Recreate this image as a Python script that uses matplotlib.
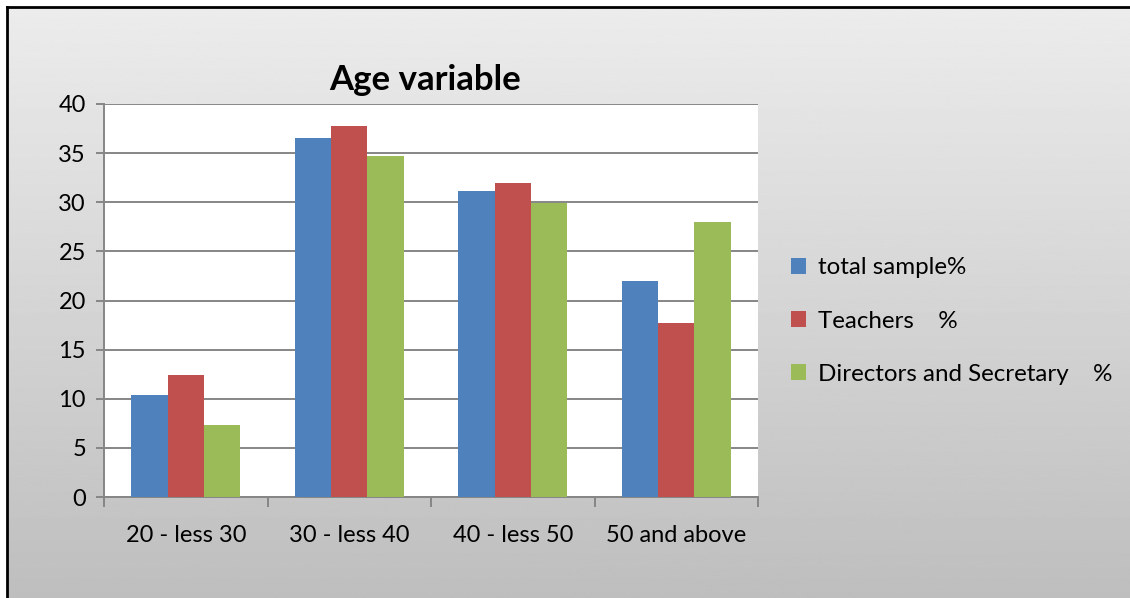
import numpy as np
import matplotlib
matplotlib.use("Agg")
import matplotlib.pyplot as plt
from matplotlib.lines import Line2D
from matplotlib.patches import Patch

plt.rcParams["font.family"] = ["Lato", "DejaVu Sans"]

categories = ["20 - less 30", "30 - less 40", "40 - less 50", "50 and above"]
total_sample = [10.4, 36.5, 31.1, 22.0]
teachers = [12.4, 37.8, 32.0, 17.7]
directors = [7.3, 34.7, 29.9, 28.0]
series_labels = ["total sample%", "Teachers    %", "Directors and Secretary    %"]
colors = ["#4F81BD", "#C0504D", "#9BBB59"]

W, H = 1130, 598
fig = plt.figure(figsize=(W / 100, H / 100), dpi=100)
fig.patch.set_facecolor("white")

# grey gradient panel behind the chart, framed on top/left
bg = fig.add_axes([7 / W, 0, 1 - 7 / W, 1 - 7 / H], zorder=0)
grad = np.linspace(0.925, 0.745, 256).reshape(-1, 1)
bg.imshow(grad, cmap="gray", vmin=0, vmax=1, aspect="auto", extent=[0, 1, 0, 1])
bg.set_xlim(0, 1)
bg.set_ylim(0, 1)
bg.axis("off")
fig.add_artist(Line2D([7 / W, 7 / W], [0, 1 - 7 / H], color="black", lw=2))
fig.add_artist(Line2D([7 / W, 1], [1 - 7 / H, 1 - 7 / H], color="black", lw=2))

ax = fig.add_axes([104 / W, 1 - 497 / H, 654 / W, 393 / H], zorder=1)
ax.set_facecolor("white")

x = np.arange(len(categories))
bw = 1 / 4.5
for i, (vals, c) in enumerate(zip([total_sample, teachers, directors], colors)):
    ax.bar(x + (i - 1) * bw, vals, width=bw, color=c, zorder=3)

ax.set_xlim(-0.5, len(categories) - 0.5)
ax.set_ylim(0, 40)
ax.set_yticks(range(0, 41, 5))
ax.yaxis.grid(True, color="#868686", lw=1.4, zorder=0)
ax.set_xticks(x)
ax.set_xticklabels(categories)
ax.set_xticks(np.arange(-0.5, len(categories)), minor=True)
ax.tick_params(axis="x", which="major", length=0, pad=20, labelsize=17)
ax.tick_params(axis="x", which="minor", length=7, width=1.4, color="#868686")
ax.tick_params(axis="y", length=6, width=1.4, color="#868686", labelsize=17, pad=7)
for s in ["top", "right"]:
    ax.spines[s].set_visible(False)
for s in ["left", "bottom"]:
    ax.spines[s].set_color("#868686")
    ax.spines[s].set_linewidth(1.4)

fig.text(425 / W, 1 - 80 / H, "Age variable", ha="center", va="center",
         fontsize=25, fontweight="bold")

handles = [Patch(facecolor=c) for c in colors]
fig.legend(handles, series_labels, loc="center left",
           bbox_to_anchor=(769 / W, 1 - 321 / H), frameon=False,
           fontsize=17.4, handlelength=0.62, handleheight=0.62,
           handletextpad=0.5, labelspacing=1.33)

fig.savefig("out.png", dpi=100)
